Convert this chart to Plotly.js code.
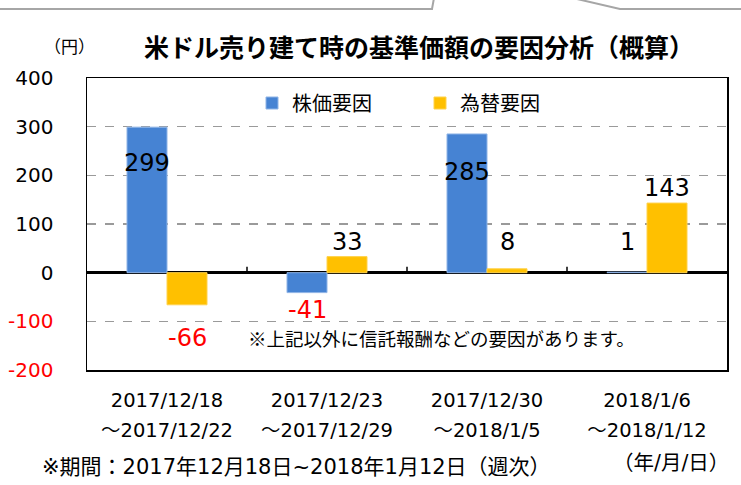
<!DOCTYPE html>
<html>
<head>
<meta charset="utf-8">
<script src="https://cdn.plot.ly/plotly-3.0.1.min.js"></script>
<style>
html,body{margin:0;padding:0;background:#fff;}
#chart{width:741px;height:485px;}
</style>
</head>
<body>
<div id="chart"></div>
<script>
// ---- data ----
const periodStart = ['2017/12/18', '2017/12/23', '2017/12/30', '2018/1/6'];
const periodEnd = ['～2017/12/22', '～2017/12/29', '～2018/1/5', '～2018/1/12'];
const seriesNames = ['株価要因', '為替要因'];
const stockFactor = [299, -41, 285, 1];
const fxFactor = [-66, 33, 8, 143];
const yTickVals = [-200, -100, 0, 100, 200, 300, 400];

// ---- styles ----
const BLUE = '#4683D3';
const YELLOW = '#FFC000';
const NUMFONT = 'DejaVu Sans, Verdana, Noto Sans CJK JP, sans-serif';
const JPFONT = 'Noto Sans CJK JP, sans-serif';
const MIXFONT = 'DejaVu Sans, Noto Sans CJK JP, sans-serif';
// label offsets (px) from bar end, mimicking the manual label placement
const stockLabelShift = [-36, -17, -38, 30];
const fxLabelShift = [-33, 15, 27, 15];

const traces = [
  {
    type: 'bar', name: seriesNames[0], x: periodStart, y: stockFactor,
    marker: {color: BLUE, line: {color: '#8fb4e6', width: 1}},
    hoverinfo: 'none'
  },
  {
    type: 'bar', name: seriesNames[1], x: periodStart, y: fxFactor,
    marker: {color: YELLOW, line: {color: '#ffd24d', width: 1}},
    hoverinfo: 'none'
  },
  {
    // carrier for the second line of the category labels
    type: 'scatter', mode: 'none', x: periodEnd, y: periodEnd.map(() => null),
    xaxis: 'x2', yaxis: 'y', showlegend: false, hoverinfo: 'none'
  }
];

const annotations = [];
function addLabels(vals, shifts, offset) {
  vals.forEach((v, i) => {
    annotations.push({
      x: i + offset, y: v, xref: 'x', yref: 'y',
      text: String(v), showarrow: false,
      xanchor: 'center', yanchor: 'middle', yshift: shifts[i],
      font: {family: NUMFONT, size: 24, color: v < 0 ? '#FF0000' : '#000000'}
    });
  });
}
addLabels(stockFactor, stockLabelShift, -0.125);
addLabels(fxFactor, fxLabelShift, 0.125);

annotations.push(
  {xref: 'paper', yref: 'paper', x: (441 - 87) / 640, y: (370 - 338) / 292,
   text: '※上記以外に信託報酬などの要因があります。', showarrow: false,
   xanchor: 'center', yanchor: 'middle', font: {family: JPFONT, size: 18.5, color: '#000'}},
  {xref: 'paper', yref: 'paper', x: (69 - 87) / 640, y: (370 - 45) / 292,
   text: '（円）', showarrow: false, xanchor: 'center', yanchor: 'middle',
   font: {family: JPFONT, size: 17, color: '#000'}},
  {xref: 'paper', yref: 'paper', x: (40 - 87) / 640, y: (370 - 467) / 292,
   text: '※期間：2017年12月18日~2018年1月12日（週次）', showarrow: false,
   xanchor: 'left', yanchor: 'middle', font: {family: MIXFONT, size: 21, color: '#000'}},
  {xref: 'paper', yref: 'paper', x: (731 - 87) / 640, y: (370 - 463) / 292,
   text: '（年/月/日）', showarrow: false, xanchor: 'right', yanchor: 'middle',
   font: {family: MIXFONT, size: 20.5, color: '#000'}}
);

const shapes = [];
// small category-boundary ticks on the zero line
for (let i = 0; i < periodStart.length - 1; i++) {
  shapes.push({type: 'line', xref: 'x', yref: 'y', ysizemode: 'pixel', yanchor: 0,
    x0: i + 0.5, x1: i + 0.5, y0: 0, y1: 6, line: {color: '#000', width: 1.5}});
}
// decorative tab lines at top of the page
function px(x) { return (x - 87) / 640; }
function py(y) { return (370 - y) / 292; }
shapes.push({type: 'path', xref: 'paper', yref: 'paper',
  path: `M${px(0)},${py(9)} L${px(432)},${py(9)} L${px(434)},${py(-2)}`,
  line: {color: '#a6a6a6', width: 2}});
shapes.push({type: 'path', xref: 'paper', yref: 'paper',
  path: `M${px(577)},${py(-1)} L${px(620)},${py(9)} L${px(741)},${py(9)}`,
  line: {color: '#a6a6a6', width: 2}});

const yTickText = yTickVals.map(v => v < 0 ? `<span style="color:#FF0000">${v}</span>` : String(v));

const layout = {
  width: 741, height: 485,
  margin: {l: 87, r: 14, t: 78, b: 115},
  paper_bgcolor: '#fff', plot_bgcolor: '#fff',
  title: {text: '<b>米ドル売り建て時の基準価額の要因分析（概算）</b>',
    xref: 'paper', x: (419 - 87) / 640, xanchor: 'center',
    yref: 'container', y: 1 - 48 / 485, yanchor: 'middle',
    font: {family: JPFONT, size: 25, color: '#000'}},
  barmode: 'group', bargap: 0.5, bargroupgap: 0,
  showlegend: true,
  legend: {orientation: 'h', x: (252 - 87) / 640, xanchor: 'left',
    y: (370 - 103) / 292, yanchor: 'middle',
    bgcolor: 'rgba(0,0,0,0)', entrywidth: 123, entrywidthmode: 'pixels',
    font: {family: JPFONT, size: 20, color: '#000'}},
  xaxis: {type: 'category', showgrid: false, zeroline: false,
    showline: true, mirror: true, linecolor: '#000', linewidth: 1.5,
    ticks: '', ticklabelstandoff: 12,
    tickfont: {family: MIXFONT, size: 19.5, color: '#000'}},
  xaxis2: {overlaying: 'x', anchor: 'y', side: 'bottom', type: 'category',
    range: [-0.5, 3.5],
    showgrid: false, zeroline: false, showline: false,
    ticks: '', ticklabelstandoff: 46,
    tickfont: {family: MIXFONT, size: 19.5, color: '#000'}},
  yaxis: {range: [-200, 400], tickmode: 'array', tickvals: yTickVals, ticktext: yTickText,
    showgrid: true, gridcolor: '#9a9a9a', gridwidth: 1.5, griddash: 'dash',
    zeroline: true, zerolinecolor: '#000', zerolinewidth: 2.5,
    showline: true, mirror: true, linecolor: '#000', linewidth: 1.5,
    ticks: '', ticklabelstandoff: 28,
    tickfont: {family: NUMFONT, size: 20, color: '#000'}},
  annotations: annotations,
  shapes: shapes
};

Plotly.newPlot('chart', traces, layout, {staticPlot: true, displayModeBar: false});
</script>
</body>
</html>
